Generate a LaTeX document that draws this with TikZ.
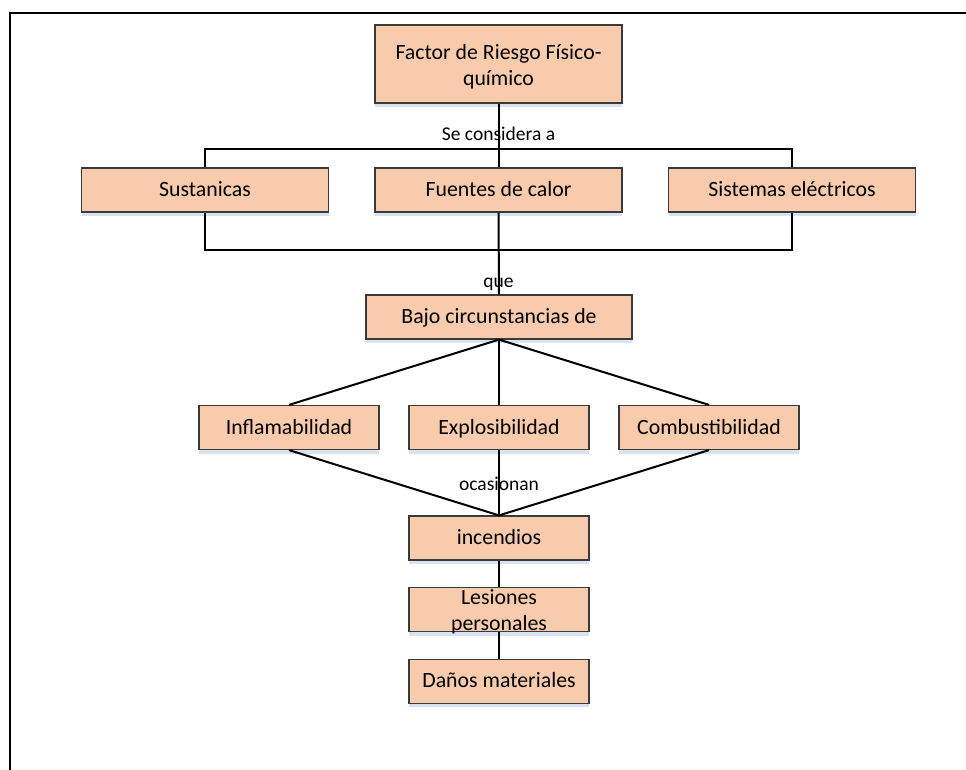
\documentclass[tikz,border=0pt]{standalone}
\usepackage{fontspec}
\setmainfont{Carlito}
\usetikzlibrary{shadows}
\definecolor{peach}{HTML}{F8CBAD}
\definecolor{boxline}{HTML}{3A3A3A}
\definecolor{shade}{HTML}{BFCFE6}
\begin{document}
\begin{tikzpicture}[x=1pt,y=-1pt,
  box/.style={draw=boxline, line width=1.2pt, fill=peach, inner sep=0pt, align=center,
    minimum width=247pt, minimum height=44pt,
    font=\fontsize{21.8}{26}\selectfont, text height=15.3pt, text depth=2.2pt,
    drop shadow={shadow xshift=0pt, shadow yshift=-4pt, fill=shade, draw=none, opacity=0.6}},
  smallbox/.style={box, minimum width=180pt},
  boxtext/.style={align=center, inner sep=0pt, font=\fontsize{21.8}{26}\selectfont},
  link/.style={line width=2pt, black},
  tag/.style={font=\fontsize{19.5}{23}\selectfont, inner sep=0pt, anchor=base}]
\useasboundingbox (0,0) rectangle (966,769);

% outer frame
\draw[line width=2pt] (9.5,790) -- (9.5,12.5) -- (990,12.5);

% connector labels
\node[tag] (tagA) at (498.5,140.7) {Se considera a};
\node[tag] (tagB) at (498.5,287) {que};
\node[tag] (tagC) at (499,490) {ocasionan};

% boxes
\node[box, minimum height=78pt] (fac) at (498.5,64) {};
\node[boxtext, yshift=-2.5pt] (facT) at (fac.center) {Factor de Riesgo Físico-\\químico};
\node[box] (sus) at (205,190) {Sustanicas};
\node[box] (fue) at (498.5,190) {Fuentes de calor};
\node[box] (sis) at (792,190) {Sistemas eléctricos};
\node[box, minimum width=266pt] (baj) at (499,317) {Bajo circunstancias de};
\node[smallbox] (inf) at (289,427.5) {Inflamabilidad};
\node[smallbox] (exp) at (499,427.5) {Explosibilidad};
\node[smallbox] (com) at (709,427.5) {Combustibilidad};
\node[smallbox] (inc) at (499,538) {incendios};
\node[smallbox] (les) at (499,609.5) {};
\node[boxtext, yshift=-2.5pt] (lesT) at (les.center) {Lesiones\\personales};
\node[smallbox] (dan) at (499,681.3) {Daños materiales};

% connectors
\draw[link] (fac.south) -- (fue.north);
\draw[link] (sus.north) -- ++(0,-18) -| (sis.north);
\draw[link] (sus.south) -- ++(0,37) -| (sis.south);
\draw[link] (fue.south) -- (baj.north);
\draw[link] (baj.south) -- (inf.north);
\draw[link] (baj.south) -- (exp.north);
\draw[link] (baj.south) -- (com.north);
\draw[link] (inf.south) -- (inc.north);
\draw[link] (exp.south) -- (inc.north);
\draw[link] (com.south) -- (inc.north);
\draw[link] (inc.south) -- (les.north);
\draw[link] (les.south) -- (dan.north);
\end{tikzpicture}
\end{document}
